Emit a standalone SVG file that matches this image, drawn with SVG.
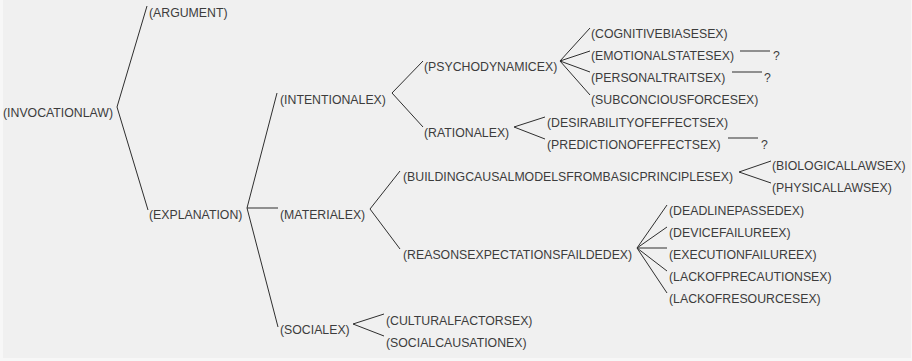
<svg xmlns="http://www.w3.org/2000/svg" width="912" height="361" viewBox="0 0 912 361">
  <style>
    .lbl { font-family: "Liberation Sans", Arial, sans-serif; font-size: 12.3px; fill: #3c3c3c; }
    .edge { stroke: #2e2e2e; stroke-width: 1; fill: none; }
  </style>
  <!-- canvas -->
  <rect x="0" y="0" width="912" height="361" fill="#f7f7f7"/>
  <rect x="3" y="0" width="908" height="358" fill="#f0f0f0"/>

  <!-- connectors -->
  <g id="connectors" class="edge">
    <path d="M117,107 L147,6 M117,107 L148,210"/>
    <path d="M247,208 L277,93 M247,208 L278,208 M247,208 L278,327"/>
    <path d="M392,93 L423,61 M392,93 L423,127"/>
    <path d="M514,127 L545,117 M514,127 L545,139"/>
    <path d="M560,61 L590,28 M560,61 L590,51 M560,61 L590,72 M560,61 L590,95"/>
    <path d="M740,51 L770,51 M732,72 L762,72 M728,138 L758,138"/>
    <path d="M370,209 L400,171 M370,209 L400,249"/>
    <path d="M353,324 L384,314 M353,324 L384,336"/>
    <path d="M739,172 L771,161 M739,172 L771,183"/>
    <path d="M637,248 L667,205 M637,248 L667,227 M637,248 L667,248 M637,248 L667,271 M637,248 L667,293"/>
  </g>

  <!-- nodes -->
  <g id="n-invocationlaw"><text class="lbl" x="3" y="117">(INVOCATIONLAW)</text></g>
  <g id="n-argument"><text class="lbl" x="149" y="17">(ARGUMENT)</text></g>
  <g id="n-explanation"><text class="lbl" x="149" y="219">(EXPLANATION)</text></g>
  <g id="n-intentionalex"><text class="lbl" x="280" y="104">(INTENTIONALEX)</text></g>
  <g id="n-materialex"><text class="lbl" x="280" y="219">(MATERIALEX)</text></g>
  <g id="n-socialex"><text class="lbl" x="280" y="334">(SOCIALEX)</text></g>
  <g id="n-psychodynamicex"><text class="lbl" x="424" y="71">(PSYCHODYNAMICEX)</text></g>
  <g id="n-rationalex"><text class="lbl" x="424" y="137">(RATIONALEX)</text></g>
  <g id="n-building"><text class="lbl" x="403" y="181">(BUILDINGCAUSALMODELSFROMBASICPRINCIPLESEX)</text></g>
  <g id="n-reasons"><text class="lbl" x="403" y="259">(REASONSEXPECTATIONSFAILDEDEX)</text></g>
  <g id="n-cultural"><text class="lbl" x="386" y="325">(CULTURALFACTORSEX)</text></g>
  <g id="n-socialcausation"><text class="lbl" x="386" y="347">(SOCIALCAUSATIONEX)</text></g>
  <g id="n-cognitive"><text class="lbl" x="591" y="38">(COGNITIVEBIASESEX)</text></g>
  <g id="n-emotional"><text class="lbl" x="591" y="60">(EMOTIONALSTATESEX)</text></g>
  <g id="n-emotional-q"><text class="lbl" x="773" y="60">?</text></g>
  <g id="n-personal"><text class="lbl" x="591" y="82">(PERSONALTRAITSEX)</text></g>
  <g id="n-personal-q"><text class="lbl" x="764" y="82">?</text></g>
  <g id="n-subconcious"><text class="lbl" x="591" y="104">(SUBCONCIOUSFORCESEX)</text></g>
  <g id="n-desirability"><text class="lbl" x="547" y="127">(DESIRABILITYOFEFFECTSEX)</text></g>
  <g id="n-prediction"><text class="lbl" x="547" y="149">(PREDICTIONOFEFFECTSEX)</text></g>
  <g id="n-prediction-q"><text class="lbl" x="761" y="149">?</text></g>
  <g id="n-biological"><text class="lbl" x="772" y="170">(BIOLOGICALLAWSEX)</text></g>
  <g id="n-physical"><text class="lbl" x="772" y="192">(PHYSICALLAWSEX)</text></g>
  <g id="n-deadline"><text class="lbl" x="669" y="215">(DEADLINEPASSEDEX)</text></g>
  <g id="n-device"><text class="lbl" x="669" y="237">(DEVICEFAILUREEX)</text></g>
  <g id="n-execution"><text class="lbl" x="669" y="259">(EXECUTIONFAILUREEX)</text></g>
  <g id="n-precaution"><text class="lbl" x="669" y="281">(LACKOFPRECAUTIONSEX)</text></g>
  <g id="n-resource"><text class="lbl" x="669" y="303">(LACKOFRESOURCESEX)</text></g>
</svg>
